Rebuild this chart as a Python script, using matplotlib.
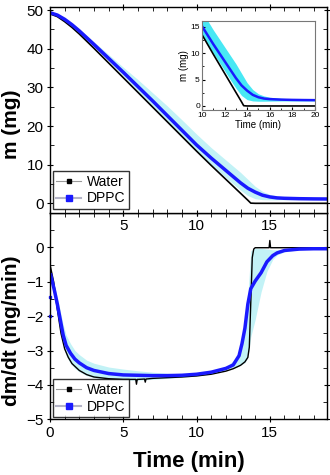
import matplotlib
matplotlib.use("Agg")
import matplotlib.pyplot as plt
from matplotlib.lines import Line2D
from matplotlib.ticker import MultipleLocator

plt.rcParams['font.family'] = ['Liberation Sans', 'DejaVu Sans']

# mass vs time, water
t_water_m = [0, 0.5, 1, 1.5, 2, 3, 4, 5, 6, 7, 8, 9, 10, 11, 12, 13, 13.5, 13.7, 14, 20]
water_m = [49.0, 48.3, 47.0, 45.5, 43.8, 40.1, 36.3, 32.5, 28.7, 24.9, 21.1, 17.3,
           13.5, 9.8, 6.2, 2.6, 0.8, 0.05, 0.0, 0.0]

# mass vs time, DPPC (mean and band)
t_dppc_m = [0, 0.5, 1, 1.5, 2, 3, 4, 5, 6, 7, 8, 9, 10, 11, 12, 12.5, 13, 13.5,
            14, 14.5, 15, 15.5, 16, 17, 18, 19, 20]
dppc_m = [49.3, 48.7, 47.6, 46.2, 44.6, 41.1, 37.5, 33.9, 30.2, 26.5, 22.7, 18.9,
          15.1, 11.7, 8.5, 6.9, 5.3, 3.9, 2.9, 2.1, 1.65, 1.4, 1.3, 1.2, 1.15, 1.12, 1.1]
dppc_m_hi = [49.4, 48.9, 47.9, 46.6, 45.1, 41.8, 38.5, 35.2, 32.0, 28.6, 25.2, 21.6,
             17.9, 14.4, 11.2, 9.6, 8.0, 6.2, 4.4, 3.1, 2.3, 1.9, 1.65, 1.45, 1.35, 1.3, 1.3]
dppc_m_lo = [49.2, 48.5, 47.3, 45.8, 44.1, 40.4, 36.7, 32.9, 29.0, 25.2, 21.3, 17.4,
             13.4, 10.0, 6.7, 5.0, 3.4, 2.0, 1.2, 0.95, 0.9, 0.9, 0.92, 0.95, 0.95, 0.95, 0.95]

# dm/dt, water
t_water_r = [0, 0.25, 0.5, 0.75, 1, 1.25, 1.5, 2, 2.5, 3, 4, 5, 5.85, 5.9, 5.95, 6,
             6.45, 6.5, 6.55, 7, 8, 9, 10, 11, 12, 12.5, 13, 13.3, 13.5, 13.6, 13.7,
             13.8, 13.9, 14, 14.95, 15.0, 15.05, 16, 17, 19]
water_r = [-0.5, -1.0, -1.8, -2.5, -2.95, -3.2, -3.38, -3.58, -3.7, -3.77, -3.82, -3.84,
           -3.84, -3.98, -3.84, -3.84, -3.83, -3.92, -3.83, -3.81, -3.79, -3.77, -3.74,
           -3.69, -3.6, -3.53, -3.43, -3.33, -3.2, -2.9, -1.6, -0.3, -0.05, -0.01, -0.01,
           0.2, -0.01, -0.01, -0.01, -0.01]

# dm/dt, DPPC (mean and band)
t_dppc_r = [0.05, 0.3, 0.5, 0.7, 0.9, 1.1, 1.4, 1.7, 2, 2.5, 3, 4, 5, 6, 7, 8, 9, 10,
            11, 12, 12.5, 12.9, 13.1, 13.3, 13.5, 13.7, 14.0, 14.4, 14.8, 15.2, 15.5,
            16, 17, 18, 19]
dppc_r = [-0.8, -1.25, -1.65, -2.1, -2.55, -2.85, -3.08, -3.25, -3.36, -3.5, -3.58,
          -3.67, -3.71, -3.72, -3.73, -3.73, -3.72, -3.69, -3.63, -3.52, -3.42, -3.15,
          -2.8, -2.35, -1.65, -1.2, -0.98, -0.74, -0.42, -0.24, -0.16, -0.09, -0.05,
          -0.04, -0.04]
dppc_r_hi = [-0.75, -1.1, -1.45, -1.85, -2.25, -2.55, -2.8, -3.0, -3.12, -3.28, -3.37,
             -3.48, -3.54, -3.59, -3.63, -3.66, -3.68, -3.66, -3.6, -3.47, -3.3, -3.1,
             -2.9, -2.3, -1.4, -0.1, -0.02, -0.03, -0.05, -0.07, -0.07, -0.06, -0.04,
             -0.03, -0.03]
dppc_r_lo = [-0.85, -1.45, -1.95, -2.45, -2.85, -3.15, -3.38, -3.52, -3.62, -3.73,
             -3.79, -3.84, -3.86, -3.86, -3.84, -3.81, -3.78, -3.74, -3.68, -3.58,
             -3.52, -3.45, -3.4, -3.35, -3.2, -2.6, -2.1, -1.3, -0.7, -0.35, -0.22,
             -0.13, -0.07, -0.05, -0.05]
dppc_r_stray_t = [0.0, 0.0]
dppc_r_stray = [-1.45, -2.0]

blue = '#1a1aff'
band = '#c2f2f6'

fig = plt.figure(figsize=(3.3, 4.75), dpi=100)
ax2 = fig.add_axes([0.1515, 0.1173, 0.8394, 0.4343])
ax1 = fig.add_axes([0.1515, 0.5516, 0.8394, 0.433])
axin = fig.add_axes([0.612, 0.768, 0.342, 0.187])

handles = [Line2D([], [], color='#9a9a9a', lw=0.8, marker='s', ms=2.5, mfc='k', mec='k'),
           Line2D([], [], color='#b4b4c8', lw=1.5, marker='s', ms=5, mfc=blue, mec=blue)]

# top: mass
ax1.fill_between(t_dppc_m, dppc_m_lo, dppc_m_hi, color=band, lw=0)
ax1.plot(t_water_m, water_m, color='k', lw=1.2)
ax1.plot(t_dppc_m, dppc_m, color=blue, lw=2.5)
ax1.set_xlim(0, 18.9)
ax1.set_ylim(-2.5, 50.7)
ax1.set_xticks([5, 10, 15])
ax1.xaxis.set_minor_locator(MultipleLocator(1))
ax1.set_yticks([0, 10, 20, 30, 40, 50])
ax1.yaxis.set_minor_locator(MultipleLocator(5))
ax1.set_ylabel('m (mg)', fontsize=15, fontweight='bold')
ax1.yaxis.set_label_coords(-0.105, 0.43)
ax1.legend(handles, ['Water', 'DPPC'], loc='lower left', bbox_to_anchor=(0.01, 0.02),
           borderaxespad=0, fontsize=10, fancybox=False, edgecolor='k',
           handlelength=1.8, handletextpad=0.4, borderpad=0.25, labelspacing=0.2)

# bottom: dm/dt
ax2.fill_between(t_dppc_r, dppc_r_lo, dppc_r_hi, color=band, lw=0)
ax2.plot(t_water_r, water_r, color='k', lw=1.0)
ax2.plot(t_dppc_r, dppc_r, color=blue, lw=2.5)
ax2.plot(dppc_r_stray_t, dppc_r_stray, 's', color=blue, ms=2, clip_on=False)
ax2.set_xlim(0, 18.9)
ax2.set_ylim(-5, 1)
ax2.set_xticks([0, 5, 10, 15])
ax2.xaxis.set_minor_locator(MultipleLocator(1))
ax2.set_yticks([-5, -4, -3, -2, -1, 0])
ax2.yaxis.set_minor_locator(MultipleLocator(0.5))
ax2.set_ylabel('dm/dt (mg/min)', fontsize=15, fontweight='bold')
ax2.yaxis.set_label_coords(-0.105, 0.43)
ax2.set_xlabel('Time (min)', fontsize=16, fontweight='bold')
ax2.xaxis.set_label_coords(0.5, -0.155)
ax2.legend(handles, ['Water', 'DPPC'], loc='lower left', bbox_to_anchor=(0.01, 0.01),
           borderaxespad=0, fontsize=10, fancybox=False, edgecolor='k',
           handlelength=1.8, handletextpad=0.4, borderpad=0.25, labelspacing=0.2)

for ax in (ax1, ax2):
    ax.tick_params(which='major', direction='inout', length=5, labelsize=11,
                   right=True, top=True, pad=2)
    ax.tick_params(which='minor', direction='in', length=3, right=True, top=True)
    for s in ax.spines.values():
        s.set_linewidth(1.0)

# inset
axin.fill_between(t_dppc_m, dppc_m_lo, dppc_m_hi, color='#48e8f4', lw=0)
axin.plot(t_water_m, water_m, color='k', lw=1.2)
axin.plot(t_dppc_m, dppc_m, color=blue, lw=1.8)
axin.set_xlim(10, 20)
axin.set_ylim(-0.8, 16)
axin.set_xticks([10, 12, 14, 16, 18, 20])
axin.xaxis.set_minor_locator(MultipleLocator(1))
axin.set_yticks([0, 5, 10, 15])
axin.yaxis.set_minor_locator(MultipleLocator(2.5))
axin.tick_params(which='both', direction='in', labelsize=6, pad=1.5)
axin.tick_params(which='major', length=2.5)
axin.tick_params(which='minor', length=1.5)
axin.set_xlabel('Time (min)', fontsize=7, labelpad=0.5)
axin.set_ylabel('m (mg)', fontsize=7, labelpad=1)
for s in axin.spines.values():
    s.set_color('#777777')
    s.set_linewidth(0.8)

fig.savefig('out.png', dpi=100)
